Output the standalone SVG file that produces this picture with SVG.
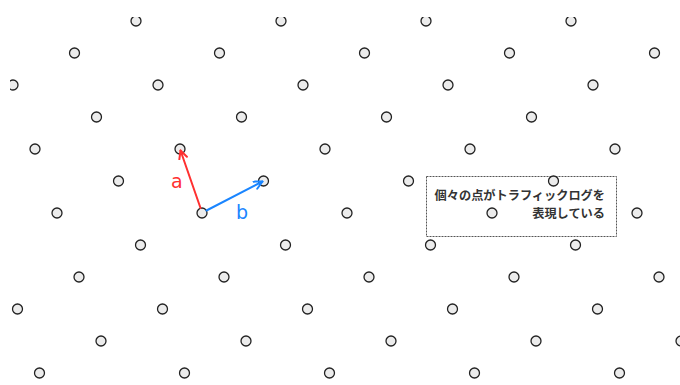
<svg xmlns="http://www.w3.org/2000/svg" width="680" height="385" viewBox="0 0 680 385">
  <style>
    .pt { fill: #ececec; stroke: #222; stroke-width: 1.3; }
    .box { fill: none; stroke: #555; stroke-width: 1; stroke-dasharray: 2 1; }
    .note { font-family: "Noto Sans CJK JP", "Noto Sans", sans-serif; font-size: 12.2px; font-weight: bold; fill: #333; }
    .va { stroke: #ff3030; stroke-width: 2; fill: none; stroke-linecap: round; }
    .vb { stroke: #1a85ff; stroke-width: 2; fill: none; stroke-linecap: round; }
    .la { font-family: "DejaVu Sans", sans-serif; font-size: 19px; fill: #ff3030; }
    .lb { font-family: "DejaVu Sans", sans-serif; font-size: 19px; fill: #1a85ff; }
  </style>
  <defs>
    <clipPath id="clip"><rect x="10" y="17" width="680" height="380"/></clipPath>
    <marker id="ha" viewBox="0 0 10 10" refX="9" refY="5" markerWidth="10" markerHeight="10" markerUnits="userSpaceOnUse" orient="auto">
      <path d="M1,1 L9,5 L1,9" fill="none" stroke="#ff3030" stroke-width="2" stroke-linecap="round" stroke-linejoin="round"/>
    </marker>
    <marker id="hb" viewBox="0 0 10 10" refX="9" refY="5" markerWidth="10" markerHeight="10" markerUnits="userSpaceOnUse" orient="auto">
      <path d="M1,1 L9,5 L1,9" fill="none" stroke="#1a85ff" stroke-width="2" stroke-linecap="round" stroke-linejoin="round"/>
    </marker>
  </defs>
  <rect width="680" height="385" fill="#fff"/>
  <g id="note-box">
    <rect class="box" x="426.5" y="176.5" width="190" height="60"/>
  </g>
  <g id="lattice" clip-path="url(#clip)">
    <circle class="pt" cx="136" cy="21" r="5"/><circle class="pt" cx="281" cy="21" r="5"/><circle class="pt" cx="426" cy="21" r="5"/><circle class="pt" cx="571" cy="21" r="5"/>
    <circle class="pt" cx="74.5" cy="53" r="5"/><circle class="pt" cx="219.5" cy="53" r="5"/><circle class="pt" cx="364.5" cy="53" r="5"/><circle class="pt" cx="509.5" cy="53" r="5"/><circle class="pt" cx="654.5" cy="53" r="5"/>
    <circle class="pt" cx="13" cy="85" r="5"/><circle class="pt" cx="158" cy="85" r="5"/><circle class="pt" cx="303" cy="85" r="5"/><circle class="pt" cx="448" cy="85" r="5"/><circle class="pt" cx="593" cy="85" r="5"/>
    <circle class="pt" cx="96.5" cy="117" r="5"/><circle class="pt" cx="241.5" cy="117" r="5"/><circle class="pt" cx="386.5" cy="117" r="5"/><circle class="pt" cx="531.5" cy="117" r="5"/>
    <circle class="pt" cx="35" cy="149" r="5"/><circle class="pt" cx="180" cy="149" r="5"/><circle class="pt" cx="325" cy="149" r="5"/><circle class="pt" cx="470" cy="149" r="5"/><circle class="pt" cx="615" cy="149" r="5"/>
    <circle class="pt" cx="118.5" cy="181" r="5"/><circle class="pt" cx="263.5" cy="181" r="5"/><circle class="pt" cx="408.5" cy="181" r="5"/><circle class="pt" cx="553.5" cy="181" r="5"/>
    <circle class="pt" cx="57" cy="213" r="5"/><circle class="pt" cx="202" cy="213" r="5"/><circle class="pt" cx="347" cy="213" r="5"/><circle class="pt" cx="492" cy="213" r="5"/><circle class="pt" cx="637" cy="213" r="5"/>
    <circle class="pt" cx="140.5" cy="245" r="5"/><circle class="pt" cx="285.5" cy="245" r="5"/><circle class="pt" cx="430.5" cy="245" r="5"/><circle class="pt" cx="575.5" cy="245" r="5"/>
    <circle class="pt" cx="79" cy="277" r="5"/><circle class="pt" cx="224" cy="277" r="5"/><circle class="pt" cx="369" cy="277" r="5"/><circle class="pt" cx="514" cy="277" r="5"/><circle class="pt" cx="659" cy="277" r="5"/>
    <circle class="pt" cx="17.5" cy="309" r="5"/><circle class="pt" cx="162.5" cy="309" r="5"/><circle class="pt" cx="307.5" cy="309" r="5"/><circle class="pt" cx="452.5" cy="309" r="5"/><circle class="pt" cx="597.5" cy="309" r="5"/>
    <circle class="pt" cx="101" cy="341" r="5"/><circle class="pt" cx="246" cy="341" r="5"/><circle class="pt" cx="391" cy="341" r="5"/><circle class="pt" cx="536" cy="341" r="5"/><circle class="pt" cx="681" cy="341" r="5"/>
    <circle class="pt" cx="39.5" cy="373" r="5"/><circle class="pt" cx="184.5" cy="373" r="5"/><circle class="pt" cx="329.5" cy="373" r="5"/><circle class="pt" cx="474.5" cy="373" r="5"/><circle class="pt" cx="619.5" cy="373" r="5"/>
  </g>
  <g id="connectors">
    <line id="vec-a" class="va" x1="200.5" y1="208" x2="180.5" y2="150.5" marker-end="url(#ha)"/>
    <line id="vec-b" class="vb" x1="206.5" y1="210.5" x2="262.5" y2="181.5" marker-end="url(#hb)"/>
  </g>
  <g id="labels">
    <text class="la" x="171" y="188">a</text>
    <text class="lb" x="236" y="219">b</text>
  </g>
  <g id="note">
    <text class="note" x="605" y="200" text-anchor="end">個々の点がトラフィックログを</text>
    <text class="note" x="605" y="218" text-anchor="end">表現している</text>
  </g>
</svg>
